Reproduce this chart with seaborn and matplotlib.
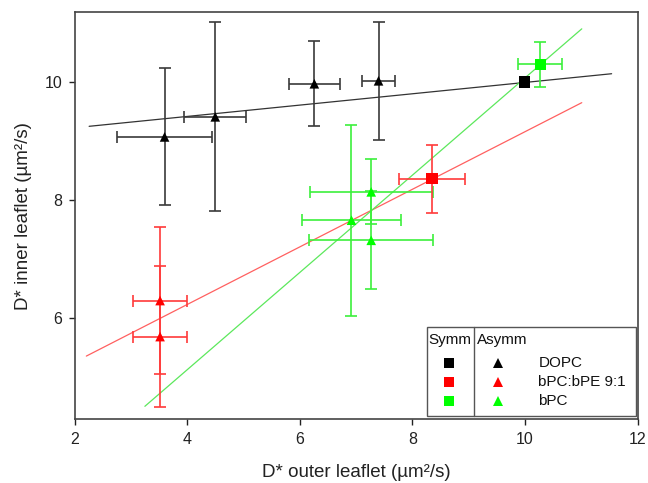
import numpy as np
import pandas as pd
import matplotlib
matplotlib.use('Agg')
import matplotlib.pyplot as plt
import seaborn as sns
from matplotlib.patches import Rectangle
from matplotlib.lines import Line2D

# ---- data ----
groups = ['DOPC', 'bPC:bPE 9:1', 'bPC']

asym_group = ['DOPC', 'DOPC', 'DOPC', 'DOPC',
              'bPC:bPE 9:1', 'bPC:bPE 9:1',
              'bPC', 'bPC', 'bPC']
asym_x = [3.60, 4.50, 6.26, 7.40, 3.52, 3.52, 7.27, 6.92, 7.27]
asym_y = [9.07, 9.41, 9.97, 10.02, 6.30, 5.69, 8.14, 7.66, 7.32]
asym_xerr = [0.84, 0.55, 0.45, 0.30, 0.48, 0.48, 1.09, 0.875, 1.10]
asym_yerr = [1.16, 1.60, 0.72, 1.00, 1.24, 1.20, 0.55, 1.62, 0.83]

sym_group = ['DOPC', 'bPC:bPE 9:1', 'bPC']
sym_x = [10.0, 8.35, 10.27]
sym_y = [10.0, 8.36, 10.30]
sym_xerr = [0.0, 0.58, 0.385]
sym_yerr = [0.0, 0.57, 0.38]

fit_group = ['DOPC', 'DOPC', 'bPC:bPE 9:1', 'bPC:bPE 9:1', 'bPC', 'bPC']
fit_x = [2.26, 11.54, 2.21, 11.01, 3.25, 11.01]
fit_y = [9.25, 10.14, 5.36, 9.65, 4.51, 10.90]

x_ticks = [2, 4, 6, 8, 10, 12]
y_ticks = [6, 8, 10]

marker_colors = {'DOPC': '#000000', 'bPC:bPE 9:1': '#ff0000', 'bPC': '#00ff00'}
err_colors = {'DOPC': '#3a3a3a', 'bPC:bPE 9:1': '#ff3a3a', 'bPC': '#3cf03c'}
line_colors = {'DOPC': '#333333', 'bPC:bPE 9:1': '#ff6060', 'bPC': '#5ce85c'}

asym = pd.DataFrame({'group': asym_group, 'x': asym_x, 'y': asym_y,
                     'xerr': asym_xerr, 'yerr': asym_yerr})
sym = pd.DataFrame({'group': sym_group, 'x': sym_x, 'y': sym_y,
                    'xerr': sym_xerr, 'yerr': sym_yerr})
fits = pd.DataFrame({'group': fit_group, 'x': fit_x, 'y': fit_y})

# ---- style ----
sns.set_style('ticks')
plt.rcParams['font.family'] = ['Liberation Sans', 'DejaVu Sans']

W, H = 648, 483
fig = plt.figure(figsize=(W / 100, H / 100), dpi=100)
ax = fig.add_axes([74.5 / W, 1 - 419.3 / H, 563 / W, 407 / H])

# fit lines
sns.lineplot(data=fits, x='x', y='y', hue='group', palette=line_colors,
             hue_order=groups, linewidth=0.9, legend=False, ax=ax,
             estimator=None, sort=False, zorder=2)

# error bars
for df in (asym, sym):
    for g in groups:
        d = df[(df['group'] == g) & ((df['xerr'] > 0) | (df['yerr'] > 0))]
        if len(d) == 0:
            continue
        ax.errorbar(d['x'], d['y'], xerr=d['xerr'], yerr=d['yerr'], fmt='none',
                    ecolor=err_colors[g], elinewidth=1.2, capsize=4.5,
                    capthick=1.2, zorder=3)

# markers
sns.scatterplot(data=asym, x='x', y='y', hue='group', palette=marker_colors,
                hue_order=groups, marker='^', s=48, linewidth=0,
                legend=False, ax=ax, zorder=4)
sns.scatterplot(data=sym, x='x', y='y', hue='group', palette=marker_colors,
                hue_order=groups, marker='s', s=64, linewidth=0,
                legend=False, ax=ax, zorder=4)

ax.set_xlim(2, 12)
ax.set_ylim(4.29, 11.18)
ax.set_xticks(x_ticks)
ax.set_yticks(y_ticks)
ax.set_xticklabels([str(t) for t in x_ticks])
ax.set_yticklabels([str(t) for t in y_ticks])
ax.tick_params(direction='out', length=4, width=1, colors='#222222',
               labelsize=11.5, pad=5)
for sp in ax.spines.values():
    sp.set_visible(True)
    sp.set_color('#444444')
    sp.set_linewidth(1.2)

ax.set_xlabel('D* outer leaflet (µm²/s)', fontsize=13.5, color='#222222',
              labelpad=12.5)
ax.set_ylabel('D* inner leaflet (µm²/s)', fontsize=13.5, color='#222222',
              labelpad=9)


# ---- custom legend (figure pixel coords) ----
def fx(px):
    return px / W


def fy(py):
    return 1 - py / H


box = Rectangle((fx(426.7), fy(415.7)), fx(635.7) - fx(426.7),
                fy(327) - fy(415.7), transform=fig.transFigure,
                facecolor='white', edgecolor='#555555', linewidth=1.0,
                zorder=10)
fig.add_artist(box)
fig.add_artist(Line2D([fx(474), fx(474)], [fy(327), fy(415.7)],
                      transform=fig.transFigure, color='#555555',
                      linewidth=1.0, zorder=11))
fig.text(fx(428), fy(340), 'Symm', ha='left', va='center', fontsize=11,
         color='#111111', zorder=12)
fig.text(fx(477), fy(340), 'Asymm', ha='left', va='center', fontsize=11,
         color='#111111', zorder=12)
row_y = [362.7, 381.7, 401.0]
for g, ry in zip(groups, row_y):
    fig.add_artist(Line2D([fx(449)], [fy(ry)], transform=fig.transFigure,
                          marker='s', markersize=6.5, color=marker_colors[g],
                          markeredgewidth=0, linestyle='none', zorder=12))
    fig.add_artist(Line2D([fx(498)], [fy(ry)], transform=fig.transFigure,
                          marker='^', markersize=7, color=marker_colors[g],
                          markeredgewidth=0, linestyle='none', zorder=12))
    fig.text(fx(538.3), fy(ry), g, ha='left', va='center', fontsize=11,
             color='#111111', zorder=12)

fig.savefig('out.png', dpi=100)
